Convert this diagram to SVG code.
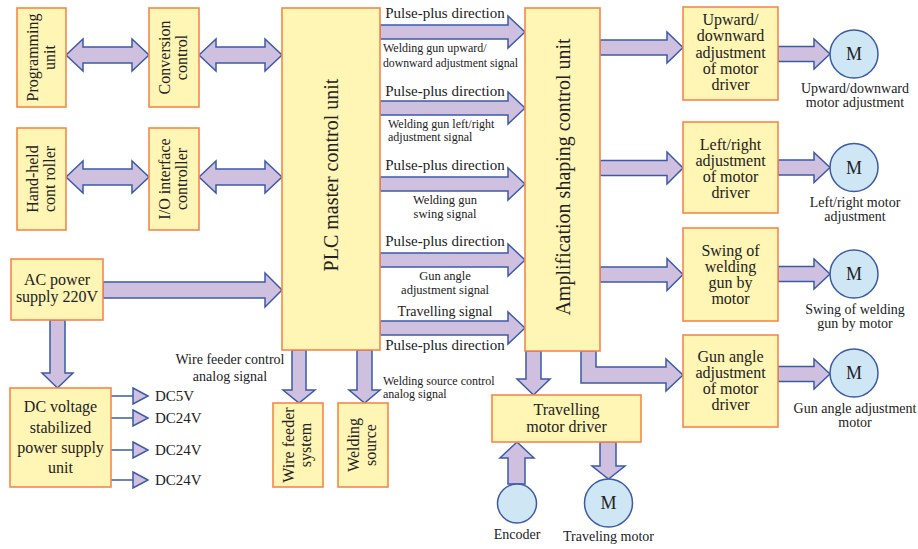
<svg xmlns="http://www.w3.org/2000/svg" width="918" height="549" viewBox="0 0 918 549">
<style>
.box{fill:#FFF5B4;stroke:#F5884A;stroke-width:1.6}
.arr{fill:#CEC0DE;stroke:#3C5AA6;stroke-width:1.5;stroke-linejoin:miter}
.ln{stroke:#3C5AA6;stroke-width:1.5;fill:none}
.mot{fill:#CFE6F5;stroke:#3C5AA6;stroke-width:1.5}
text{font-family:"Liberation Serif","Times New Roman",serif;fill:#222}
.t16{font-size:16px}
.t15{font-size:15px}
.t14{font-size:14px}
.t13{font-size:12.5px}
.t12{font-size:12px}
.c{text-anchor:middle}
</style>
<rect width="918" height="549" fill="#ffffff"/>
<g id="connectors">
<polygon class="arr" points="66,55 83,39 83,47 132,47 132,39 149,55 132,71 132,63 83,63 83,71"/>
<polygon class="arr" points="199,55 216,39 216,47 265,47 265,39 282,55 265,71 265,63 216,63 216,71"/>
<polygon class="arr" points="66,177 83,161 83,169 132,169 132,161 149,177 132,193 132,185 83,185 83,193"/>
<polygon class="arr" points="199,177 216,161 216,169 265,169 265,161 282,177 265,193 265,185 216,185 216,193"/>
<polygon class="arr" points="103,282 265,282 265,273 282,290 265,307 265,298 103,298"/>
<polygon class="arr" points="50,320 65,320 65,373 73,373 57.5,388 42,373 50,373"/>
<line class="ln" x1="111" y1="396" x2="133" y2="396"/><polygon class="arr" points="133,388 148,396 133,404"/>
<line class="ln" x1="111" y1="418" x2="133" y2="418"/><polygon class="arr" points="133,410 148,418 133,426"/>
<line class="ln" x1="111" y1="450" x2="133" y2="450"/><polygon class="arr" points="133,442 148,450 133,458"/>
<line class="ln" x1="111" y1="480" x2="133" y2="480"/><polygon class="arr" points="133,472 148,480 133,488"/>
<polygon class="arr" points="380,25 508,25 508,16 525,32 508,48 508,39 380,39"/>
<polygon class="arr" points="380,101 508,101 508,92 525,108 508,124 508,115 380,115"/>
<polygon class="arr" points="380,177 508,177 508,168 525,184 508,200 508,191 380,191"/>
<polygon class="arr" points="380,253 508,253 508,244 525,260 508,276 508,267 380,267"/>
<polygon class="arr" points="380,321 508,321 508,312 525,328 508,344 508,335 380,335"/>
<polygon class="arr" points="292,350 306,350 306,390 315,390 299,403 283,390 292,390"/>
<polygon class="arr" points="357,350 372,350 372,390 380,390 364.5,403 349,390 357,390"/>
<polygon class="arr" points="600,40 667,40 667,32 683,47.5 667,63 667,55 600,55"/>
<polygon class="arr" points="600,160.5 667,160.5 667,152 683,168 667,184 667,175.5 600,175.5"/>
<polygon class="arr" points="600,267 667,267 667,258.5 683,274.5 667,290.5 667,282 600,282"/>
<polygon class="arr" points="581,351 596,351 596,367 666,367 666,359 683,375 666,391 666,383 581,383"/>
<polygon class="arr" points="526,351 541,351 541,379 550,379 533.5,395 517,379 526,379"/>
<polygon class="arr" points="778,46.5 814,46.5 814,39 830,54 814,69 814,61.5 778,61.5"/>
<polygon class="arr" points="778,160 814,160 814,152.5 830,167.5 814,182.5 814,175 778,175"/>
<polygon class="arr" points="778,266.5 814,266.5 814,259 830,274 814,289 814,281.5 778,281.5"/>
<polygon class="arr" points="778,366.5 814,366.5 814,359 830,374 814,389 814,381.5 778,381.5"/>
<polygon class="arr" points="508,484 525,484 525,458 534,458 517,442 500,458 508,458"/>
<polygon class="arr" points="600,442 616,442 616,466 625,466 608.5,479 592,466 600,466"/>
</g>
<g id="labels">
<text class="t15 c" x="445" y="18">Pulse-plus direction</text>
<text class="t12" x="383" y="52">Welding gun upward/</text>
<text class="t12" x="383" y="67" textLength="135" lengthAdjust="spacingAndGlyphs">downward adjustment signal</text>
<text class="t15 c" x="445" y="96">Pulse-plus direction</text>
<text class="t12" x="388" y="128">Welding gun left/right</text>
<text class="t12" x="388" y="141">adjustment signal</text>
<text class="t15 c" x="445" y="170">Pulse-plus direction</text>
<text class="t13 c" x="445" y="204">Welding gun</text>
<text class="t13 c" x="445" y="218">swing signal</text>
<text class="t15 c" x="445" y="246">Pulse-plus direction</text>
<text class="t13 c" x="445" y="280">Gun angle</text>
<text class="t13 c" x="445" y="294">adjustment signal</text>
<text class="t14 c" x="445" y="316">Travelling signal</text>
<text class="t15 c" x="445" y="350">Pulse-plus direction</text>
<text class="t14 c" x="230" y="364">Wire feeder control</text>
<text class="t14 c" x="230" y="381">analog signal</text>
<text class="t12" x="383" y="385">Welding source control</text>
<text class="t12" x="383" y="398">analog signal</text>
<text class="t15" x="155" y="401">DC5V</text>
<text class="t15" x="155" y="423">DC24V</text>
<text class="t15" x="155" y="455">DC24V</text>
<text class="t15" x="155" y="485">DC24V</text>
</g>
<g id="programming-unit">
<rect class="box" x="17" y="8" width="49" height="99"/>
<text class="t16 c" transform="translate(41.5,57.5) rotate(-90)"><tspan x="0" y="-4">Programming</tspan><tspan x="0" y="13">unit</tspan></text>
</g>
<g id="conversion-control">
<rect class="box" x="149" y="8" width="50" height="99"/>
<text class="t16 c" transform="translate(174,57.5) rotate(-90)"><tspan x="0" y="-4">Conversion</tspan><tspan x="0" y="13">control</tspan></text>
</g>
<g id="hand-held">
<rect class="box" x="17" y="128" width="49" height="102"/>
<text class="t16 c" transform="translate(41.5,179) rotate(-90)"><tspan x="0" y="-4">Hand-held</tspan><tspan x="0" y="13">cont roller</tspan></text>
</g>
<g id="io-interface">
<rect class="box" x="149" y="128" width="50" height="102"/>
<text class="t16 c" transform="translate(174,179) rotate(-90)"><tspan x="0" y="-4">I/O interface</tspan><tspan x="0" y="13">controller</tspan></text>
</g>
<g id="plc">
<rect class="box" x="282" y="8" width="98" height="342"/>
<text class="c" font-size="20" transform="translate(331,175) rotate(-90)" y="7">PLC master control unit</text>
</g>
<g id="amplification">
<rect class="box" x="525" y="8" width="75" height="343"/>
<text class="c" font-size="20" transform="translate(562.5,177) rotate(-90)" y="7">Amplification shaping control unit</text>
</g>
<g id="ac-power">
<rect class="box" x="11" y="259" width="92" height="61"/>
<text class="t16 c" x="57" y="285">AC power</text>
<text class="t16 c" x="57" y="302">supply 220V</text>
</g>
<g id="dc-power">
<rect class="box" x="10" y="388" width="101" height="99"/>
<text class="t16 c" x="60.5" y="412">DC voltage</text>
<text class="t16 c" x="60.5" y="433">stabilized</text>
<text class="t16 c" x="60.5" y="453">power supply</text>
<text class="t16 c" x="60.5" y="473">unit</text>
</g>
<g id="wire-feeder">
<rect class="box" x="273" y="403" width="50" height="84"/>
<text class="t16 c" transform="translate(298,445) rotate(-90)"><tspan x="0" y="-4">Wire feeder</tspan><tspan x="0" y="13">system</tspan></text>
</g>
<g id="welding-source">
<rect class="box" x="338" y="403" width="50" height="84"/>
<text class="t16 c" transform="translate(363,445) rotate(-90)"><tspan x="0" y="-4">Welding</tspan><tspan x="0" y="13">source</tspan></text>
</g>
<g id="updown-driver">
<rect class="box" x="683" y="7" width="95" height="93"/>
<text class="t16 c" x="730.5" y="25">Upward/</text>
<text class="t16 c" x="730.5" y="41.3">downward</text>
<text class="t16 c" x="730.5" y="57.6">adjustment</text>
<text class="t16 c" x="730.5" y="74">of motor</text>
<text class="t16 c" x="730.5" y="90.3">driver</text>
</g>
<g id="leftright-driver">
<rect class="box" x="683" y="122" width="95" height="91"/>
<text class="t16 c" x="730.5" y="150">Left/right</text>
<text class="t16 c" x="730.5" y="166">adjustment</text>
<text class="t16 c" x="730.5" y="182">of motor</text>
<text class="t16 c" x="730.5" y="198">driver</text>
</g>
<g id="swing-driver">
<rect class="box" x="683" y="228" width="95" height="93"/>
<text class="t16 c" x="730.5" y="256">Swing of</text>
<text class="t16 c" x="730.5" y="272">welding</text>
<text class="t16 c" x="730.5" y="288">gun by</text>
<text class="t16 c" x="730.5" y="304">motor</text>
</g>
<g id="angle-driver">
<rect class="box" x="683" y="335" width="95" height="92"/>
<text class="t16 c" x="730.5" y="362">Gun angle</text>
<text class="t16 c" x="730.5" y="378">adjustment</text>
<text class="t16 c" x="730.5" y="394">of motor</text>
<text class="t16 c" x="730.5" y="410">driver</text>
</g>
<g id="travel-driver">
<rect class="box" x="492" y="395" width="149" height="47"/>
<text class="t16 c" x="566.5" y="415">Travelling</text>
<text class="t16 c" x="566.5" y="432">motor driver</text>
</g>
<g id="motor-updown">
<circle class="mot" cx="854" cy="54" r="24"/>
<text class="c" font-size="18" x="854" y="60">M</text>
<text class="t14 c" x="855" y="93">Upward/downward</text>
<text class="t14 c" x="855" y="107">motor adjustment</text>
</g>
<g id="motor-leftright">
<circle class="mot" cx="854" cy="167.5" r="24"/>
<text class="c" font-size="18" x="854" y="173.5">M</text>
<text class="t14 c" x="855" y="207">Left/right motor</text>
<text class="t14 c" x="855" y="221">adjustment</text>
</g>
<g id="motor-swing">
<circle class="mot" cx="854" cy="274" r="24"/>
<text class="c" font-size="18" x="854" y="280">M</text>
<text class="t14 c" x="855" y="314">Swing of welding</text>
<text class="t14 c" x="855" y="328">gun by motor</text>
</g>
<g id="motor-angle">
<circle class="mot" cx="854" cy="373" r="24"/>
<text class="c" font-size="18" x="854" y="379">M</text>
<text class="t14 c" x="855" y="413">Gun angle adjustment</text>
<text class="t14 c" x="855" y="427">motor</text>
</g>
<g id="encoder">
<circle class="mot" cx="517" cy="503.5" r="19.5"/>
<text class="t14 c" x="517" y="539">Encoder</text>
</g>
<g id="traveling-motor">
<circle class="mot" cx="608.5" cy="503" r="24"/>
<text class="c" font-size="18" x="608.5" y="509">M</text>
<text class="t14 c" x="608.5" y="541">Traveling motor</text>
</g>
</svg>
